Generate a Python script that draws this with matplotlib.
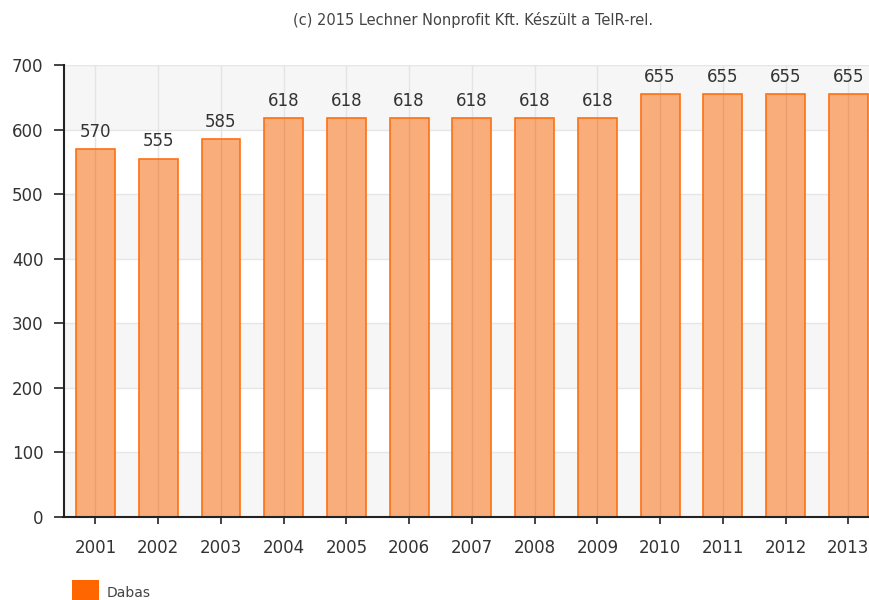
import matplotlib
matplotlib.use("Agg")
import matplotlib.pyplot as plt
from matplotlib.patches import Rectangle

years = ["2001", "2002", "2003", "2004", "2005", "2006", "2007",
         "2008", "2009", "2010", "2011", "2012", "2013"]
values = [570, 555, 585, 618, 618, 618, 618, 618, 618, 655, 655, 655, 655]
series_name = "Dabas"
title = "(c) 2015 Lechner Nonprofit Kft. Készült a TeIR-rel."

plt.rcParams['font.family'] = ['DejaVu Sans']

W, H = 869, 600
fig = plt.figure(figsize=(W / 100, H / 100), dpi=100)
ax = fig.add_axes([63.5 / W, (H - 516.7) / H, 1 - 63.5 / W, (516.7 - 65.2) / H])

# alternating bands
for lo in range(0, 700, 200):
    ax.axhspan(lo, lo + 100, color="#f6f6f6", zorder=0, lw=0)
for y in range(100, 701, 100):
    ax.axhline(y, color="#e6e6e6", lw=1.0, zorder=1)

x = list(range(len(years)))
for xi in x:
    ax.axvline(xi, color="#e4e4e4", lw=1.0, zorder=1)

ax.bar(x, values, width=0.62, facecolor="#F9AD7A", edgecolor="none", zorder=2)
# faint grid line showing through the bars
ax.vlines(x, 0, values, color="#e0966a", lw=1.0, alpha=0.6, zorder=2.5)
ax.bar(x, values, width=0.62, facecolor="none", edgecolor="#FF7014",
       linewidth=1.2, zorder=3)

for xi, v in zip(x, values):
    ax.annotate(str(v), (xi, v), xytext=(0, 6), textcoords="offset points",
                ha="center", va="bottom", fontsize=12, color="#333333",
                zorder=4)

ax.set_xlim(-0.51, 12.33)
ax.set_ylim(0, 700)
ax.set_yticks(range(0, 701, 100))
ax.set_xticks(x)
ax.set_xticklabels(years)

for s in ["top", "right"]:
    ax.spines[s].set_visible(False)
for s in ["left", "bottom"]:
    ax.spines[s].set_color("#222222")
    ax.spines[s].set_linewidth(1.5)
    ax.spines[s].set_zorder(5)

ax.tick_params(axis="y", direction="out", length=7.5, width=1.2,
               color="#222222", labelsize=12, labelcolor="#333333", pad=7)
ax.tick_params(axis="x", direction="out", length=5, width=1.2,
               color="#222222", labelsize=12, labelcolor="#333333", pad=11)

fig.text(473 / W, 1 - 20 / H, title, ha="center", va="center",
         fontsize=10.5, color="#444444")

# legend
fig.patches.append(Rectangle((72.3 / W, 0), 27 / W, 20 / H,
                             transform=fig.transFigure, facecolor="#FF6600",
                             edgecolor="none"))
fig.text(107 / W, 1 - 593 / H, series_name, ha="left", va="center",
         fontsize=10, color="#444444")

fig.savefig("out.png", dpi=100)
